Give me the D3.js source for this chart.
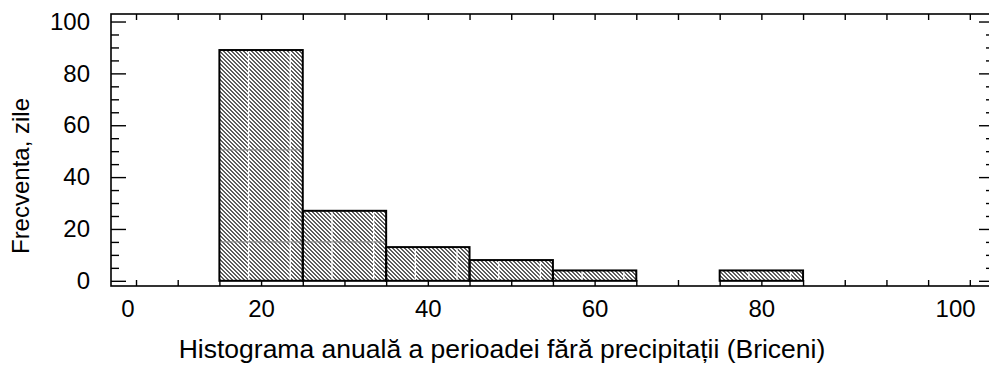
<!DOCTYPE html>
<html>
<head>
<meta charset="utf-8">
<script src="https://cdn.jsdelivr.net/npm/d3@7"></script>
<style>
  html, body { margin: 0; padding: 0; background: #fff; }
  svg { display: block; font-family: "Liberation Sans", Arial, sans-serif; }
</style>
</head>
<body>
<div id="chart"></div>
<script>
// histogram data (bins of 10 days, centred on 20, 30, ... 100)
const binEdges = [15, 25, 35, 45, 55, 65, 75, 85, 95, 105]
const counts = [89, 27, 13, 8, 4, 0, 4, 0, 0]

const xLabels = [0, 20, 40, 60, 80, 100]
const yLabels = [0, 20, 40, 60, 80, 100]
const xTitle = 'Histograma anuală a perioadei fără precipitații (Briceni)'
const yTitle = 'Frecventa, zile'

const width = 989
const height = 365

const svg = d3.select('#chart').append('svg')
  .attr('width', width)
  .attr('height', height)

const x = d3.scaleLinear().domain([2, 107.9]).range([111, 994])
const y = d3.scaleLinear().domain([-2.0, 102.9]).range([286, 14])

const bins = counts.map((c, i) => ({ x0: binEdges[i], x1: binEdges[i + 1], count: c }))

// fine diagonal hatch fill
const defs = svg.append('defs')
const pat = defs.append('pattern')
  .attr('id', 'hatch')
  .attr('patternUnits', 'userSpaceOnUse')
  .attr('width', 4)
  .attr('height', 4)
pat.append('rect').attr('width', 4).attr('height', 4).attr('fill', '#fff')
const dots = []
for (let i = 0; i < 4; i++) {
  for (let j = 0; j < 4; j++) {
    if (((i - j) % 4 + 4) % 4 < 2) dots.push([i, j])
  }
}
pat.selectAll('rect.px')
  .data(dots)
  .join('rect')
  .attr('class', 'px')
  .attr('x', d => d[0]).attr('y', d => d[1])
  .attr('width', 1).attr('height', 1)
  .attr('fill', '#5e5e5e')
  .attr('shape-rendering', 'crispEdges')

const bars = svg.append('g')

bars.selectAll('rect.bar')
  .data(bins)
  .join('rect')
  .attr('class', 'bar')
  .attr('x', d => x(d.x0))
  .attr('y', d => y(d.count))
  .attr('width', d => x(d.x1) - x(d.x0))
  .attr('height', d => y(0) - y(d.count))
  .attr('fill', 'url(#hatch)')

// tile seams of the fill, as in the printed chart
const seamOffsets = [3.5, 8.5]
const seamLevels = [15, 50.5]
bins.filter(d => d.count > 0).forEach(d => {
  seamOffsets.forEach(o => {
    bars.append('line')
      .attr('x1', x(d.x0 + o)).attr('x2', x(d.x0 + o))
      .attr('y1', y(d.count)).attr('y2', y(0))
      .attr('stroke', '#fff').attr('stroke-width', 1.3)
  })
  seamLevels.filter(l => l < d.count).forEach(l => {
    bars.append('line')
      .attr('x1', x(d.x0)).attr('x2', x(d.x1))
      .attr('y1', y(l)).attr('y2', y(l))
      .attr('stroke', '#8c8c8c').attr('stroke-width', 1)
  })
})

bars.selectAll('rect.outline')
  .data(bins)
  .join('rect')
  .attr('class', 'outline')
  .attr('x', d => x(d.x0))
  .attr('y', d => y(d.count))
  .attr('width', d => x(d.x1) - x(d.x0))
  .attr('height', d => y(0) - y(d.count))
  .attr('fill', 'none')
  .attr('stroke', '#000')
  .attr('stroke-width', 2)

// frame
const [xl, xr] = x.range()
const [yb, yt] = y.range()
svg.append('rect')
  .attr('x', xl).attr('y', yt)
  .attr('width', xr - xl).attr('height', yb - yt)
  .attr('fill', 'none')
  .attr('stroke', '#000')
  .attr('stroke-width', 1.6)

const xTicks = d3.range(5, 106, 5)
const yMinor = d3.range(0, 101, 5).filter(v => v % 20 !== 0)

function plain(g) {
  g.select('.domain').remove()
  g.selectAll('.tick line').attr('stroke', '#000').attr('stroke-width', 1.4)
}

svg.append('g')
  .attr('transform', `translate(0,${yb})`)
  .call(d3.axisBottom(x).tickValues(xTicks).tickSize(-6).tickFormat(''))
  .call(plain)
svg.append('g')
  .attr('transform', `translate(0,${yt})`)
  .call(d3.axisTop(x).tickValues(xTicks).tickSize(-6).tickFormat(''))
  .call(plain)

svg.append('g')
  .attr('transform', `translate(${xl},0)`)
  .call(d3.axisLeft(y).tickValues(yLabels).tickSize(-15).tickFormat(''))
  .call(plain)
svg.append('g')
  .attr('transform', `translate(${xl},0)`)
  .call(d3.axisLeft(y).tickValues(yMinor).tickSize(-8).tickFormat(''))
  .call(plain)
svg.append('g')
  .attr('transform', `translate(${xr},0)`)
  .call(d3.axisRight(y).tickValues(yLabels).tickSize(-15).tickFormat(''))
  .call(plain)
svg.append('g')
  .attr('transform', `translate(${xr},0)`)
  .call(d3.axisRight(y).tickValues(yMinor).tickSize(-8).tickFormat(''))
  .call(plain)

// labels
const labelSize = 24
const yAx = svg.append('g')
  .attr('transform', `translate(${xl},0)`)
  .call(d3.axisLeft(y).tickValues(yLabels).tickSize(0).tickPadding(21))
yAx.select('.domain').remove()
yAx.selectAll('text')
  .attr('font-size', labelSize)
  .attr('font-family', '"Liberation Sans", Arial, sans-serif')
  .attr('fill', '#000')

// end labels sit inward of their scale position in the original
const endShift = { 0: 33, 100: 27 }
const xAx = svg.append('g')
  .attr('transform', `translate(0,${yb})`)
  .call(d3.axisBottom(x).tickValues(xLabels).tickSize(0).tickPadding(14))
xAx.select('.domain').remove()
xAx.selectAll('text')
  .attr('font-size', labelSize)
  .attr('font-family', '"Liberation Sans", Arial, sans-serif')
  .attr('fill', '#000')
  .attr('dx', d => endShift[d] || 0)

svg.append('text')
  .attr('x', 502)
  .attr('y', 358)
  .attr('text-anchor', 'middle')
  .attr('font-size', 26.5)
  .text(xTitle)

svg.append('text')
  .attr('transform', `translate(29,176) rotate(-90)`)
  .attr('text-anchor', 'middle')
  .attr('font-size', 24)
  .text(yTitle)
</script>
</body>
</html>
